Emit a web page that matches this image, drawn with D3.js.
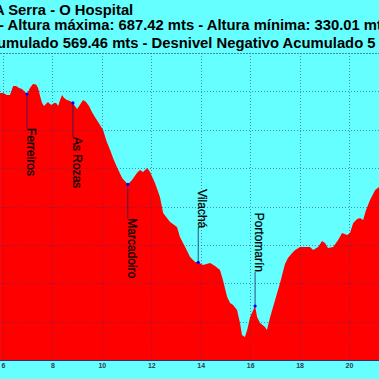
<!DOCTYPE html>
<html>
<head>
<meta charset="utf-8">
<script src="https://cdn.jsdelivr.net/npm/d3@7"></script>
<style>
html,body{margin:0;padding:0;background:#66ffff;overflow:hidden;}
svg{display:block;}
</style>
</head>
<body>
<script>
// ---- data ----
const titleLines = [
  "A Serra - O Hospital",
  "- Altura máxima: 687.42 mts - Altura mínima: 330.01 mts",
  "umulado 569.46 mts - Desnivel Negativo Acumulado 5"
];
const distanceKm = [5.88,6.00,6.16,6.28,6.41,6.53,6.65,6.77,6.89,6.97,7.09,7.21,7.34,7.42,7.50,7.58,7.66,7.74,7.82,7.90,7.98,8.06,8.15,8.23,8.31,8.39,8.47,8.59,8.71,8.83,8.91,9.00,9.08,9.16,9.24,9.36,9.48,9.60,9.72,9.85,10.05,10.19,10.33,10.47,10.61,10.82,11.05,11.22,11.42,11.54,11.67,11.83,11.95,12.15,12.35,12.48,12.76,13.04,13.16,13.37,13.57,13.77,13.90,14.09,14.38,14.58,14.78,14.90,15.07,15.19,15.31,15.47,15.59,15.67,15.79,15.88,16.00,16.20,16.28,16.40,16.60,16.68,16.81,17.01,17.21,17.41,17.53,17.70,17.82,18.02,18.22,18.42,18.55,18.75,18.91,19.03,19.15,19.36,19.56,19.72,19.92,20.04,20.17,20.33,20.45,20.57,20.69,20.85,21.06,21.22];
const altitudeM = [647.9,647.9,645.3,645.3,657.0,657.0,654.4,653.1,649.2,646.6,654.4,659.6,659.0,654.4,644.0,634.9,630.9,633.5,636.2,633.5,632.2,634.9,634.9,630.9,638.8,645.3,641.4,638.8,637.5,634.9,630.9,627.0,630.9,634.9,638.8,636.2,630.9,623.1,616.6,610.1,599.7,585.0,574.0,562.0,551.5,537.1,528.9,534.5,543.6,547.5,544.9,550.2,544.9,530.6,512.4,491.5,479.8,473.3,460.3,447.2,434.2,427.7,427.3,423.8,426.4,422.5,417.3,404.2,382.1,374.3,371.6,365.1,348.2,332.6,330.0,339.1,356.0,370.3,356.0,348.2,343.0,339.1,356.0,378.2,400.3,425.0,432.9,439.4,443.3,447.2,447.2,447.2,443.3,447.2,455.0,452.4,445.9,447.2,456.3,465.5,462.9,465.5,478.5,483.7,485.0,482.4,495.4,508.5,521.5,525.4];
const placeNames = ["Ferreiros","As Rozas","Marcadoiro","Vilachá","Portomarín"];
const placeKm = [6.97, 8.83, 11.05, 13.90, 16.20];
const placeAltitude = [646.6, 634.9, 528.9, 427.3, 370.3];
const xTickValues = [6,8,10,12,14,16,18,20];
const yGridValues = [300,350,400,450,500,550,600,650,700];

// ---- layout ----
const W = 379, H = 379;
const svg = d3.select("body").append("svg").attr("width", W).attr("height", H);
svg.append("rect").attr("width", W).attr("height", H).attr("fill", "#66ffff");

const x = d3.scaleLinear().domain([6, 20]).range([3, 349]);
const y = d3.scaleLinear().domain([300, 700]).range([360, 53]);

const pts = distanceKm.map((d, i) => ({km: d, alt: altitudeM[i]}));

// area
svg.append("path")
  .datum(pts)
  .attr("fill", "#ff0000")
  .attr("d", d3.area().x(d => x(d.km)).y0(y(300)).y1(d => y(d.alt)));

// grid
const grid = svg.append("g").attr("stroke", "#1a3a8a").attr("stroke-opacity", 0.55)
  .attr("stroke-dasharray", "1,2").attr("stroke-width", 1);
grid.selectAll("line.h").data(yGridValues.filter(v => v > 300 && v < 700)).join("line")
  .attr("x1", 0).attr("x2", W)
  .attr("y1", d => Math.round(y(d)) + 0.5).attr("y2", d => Math.round(y(d)) + 0.5);
grid.selectAll("line.v").data(xTickValues).join("line")
  .attr("x1", d => Math.round(x(d)) + 0.5).attr("x2", d => Math.round(x(d)) + 0.5)
  .attr("y1", y(700)).attr("y2", y(300));
// top frame line
svg.append("line").attr("x1", 0).attr("x2", W)
  .attr("y1", Math.round(y(700)) + 0.5).attr("y2", Math.round(y(700)) + 0.5)
  .attr("stroke", "#2a6a9a").attr("stroke-opacity", 0.75).attr("stroke-dasharray", "2,1");

// bottom axis
const axis = svg.append("g").attr("transform", `translate(0,${Math.round(y(300)) + 0.5})`)
  .call(d3.axisBottom(x).tickValues(xTickValues).tickSize(0).tickPadding(3).tickFormat(d3.format("d")));
axis.select(".domain").attr("stroke", "#3a2a6a").attr("d", `M0,0H${W}`);
axis.selectAll("text").attr("fill", "#2f4050").attr("font-family", "Liberation Sans, Arial, sans-serif")
  .attr("font-weight", "bold").attr("font-size", "7px");

// waypoints
const wp = placeNames.map((n, i) => ({name: n, km: placeKm[i], alt: placeAltitude[i]}));
const midY = (y(700) + y(300)) / 2;
const g = svg.append("g");
wp.forEach(d => {
  const px = x(d.km), py = y(d.alt);
  const below = py < midY;
  const ty = below ? py + 34 : py - 34;
  g.append("line").attr("x1", px).attr("x2", px).attr("y1", py).attr("y2", ty)
    .attr("stroke", "#202060").attr("stroke-width", 0.8);
  g.append("circle").attr("cx", px).attr("cy", py).attr("r", 1.6).attr("fill", "#0000ff");
  g.append("text")
    .attr("transform", `translate(${px + 3},${ty}) rotate(90)`)
    .attr("text-anchor", below ? "start" : "end")
    .attr("dominant-baseline", "middle")
    .attr("font-family", "Liberation Sans, Arial, sans-serif")
    .attr("font-size", "12px")
    .attr("fill", "#000")
    .attr("stroke", "#000").attr("stroke-width", 0.25)
    .text(d.name);
});

// title
const tb = [15, 30, 48];
const tx = [-6, -1, -3];
titleLines.forEach((t, i) => {
  svg.append("text").attr("x", tx[i]).attr("y", tb[i])
    .attr("font-family", "Liberation Sans, Arial, sans-serif")
    .attr("font-weight", "bold").attr("font-size", "14.8px")
    .attr("fill", "#000").text(t);
});
</script>
</body>
</html>
